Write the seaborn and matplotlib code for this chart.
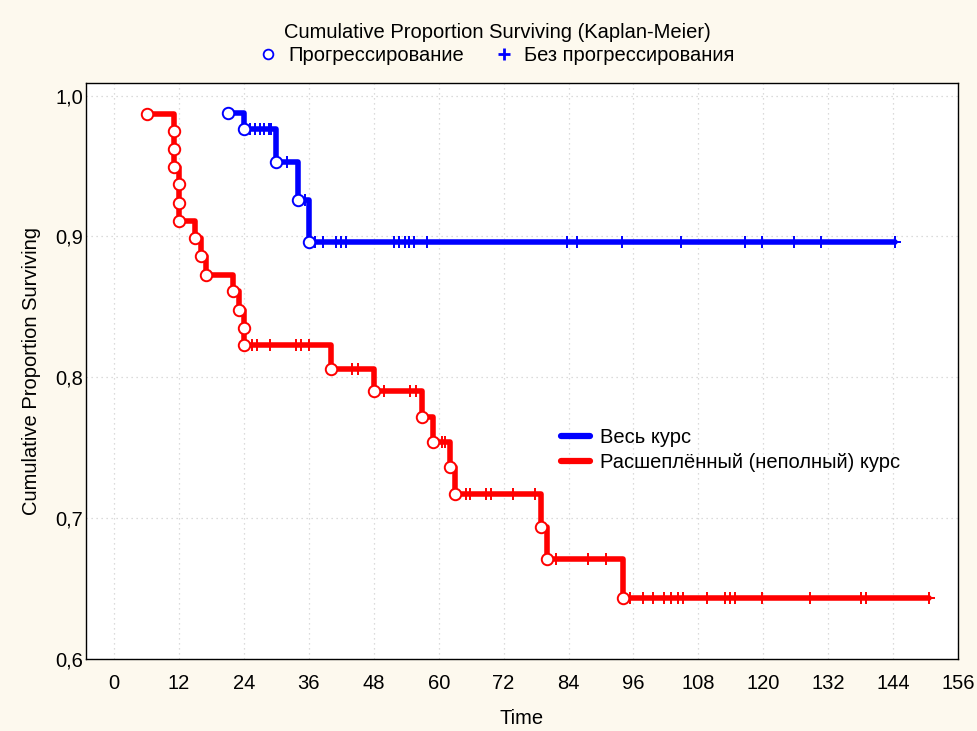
import matplotlib
matplotlib.use("Agg")
import matplotlib.pyplot as plt
from matplotlib.lines import Line2D
import numpy as np
import pandas as pd
import seaborn as sns

# Весь курс (blue): event times / survival after event, censored times
full_event_t = [21, 24, 30, 34, 36]
full_event_s = [0.988, 0.976, 0.953, 0.926, 0.896]
full_censor_t = [25.2, 26.0, 26.9, 27.7, 28.6, 29.0, 32.0, 35.2, 37.2, 38.6,
                 41.1, 41.9, 42.9, 51.8, 52.7, 53.7, 54.6, 55.5, 57.8, 83.7,
                 85.5, 93.8, 104.8, 116.7, 119.8, 125.7, 130.6, 144.3]

# Расшеплённый (неполный) курс (red)
split_event_t = [6, 11, 11, 11, 12, 12, 12, 15, 16, 17, 22, 23, 24, 24,
                 40, 48, 57, 59, 62, 63, 79, 80, 94]
split_event_s = [0.987, 0.975, 0.962, 0.949, 0.937, 0.924, 0.911, 0.899,
                 0.886, 0.873, 0.861, 0.848, 0.835, 0.823, 0.806, 0.790,
                 0.772, 0.754, 0.736, 0.717, 0.694, 0.671, 0.643]
split_censor_t = [25.4, 26.4, 28.9, 33.6, 34.6, 36.0, 44.0, 45.0, 49.9, 54.7,
                  55.8, 60.6, 61.2, 65.0, 65.8, 68.8, 69.6, 73.8, 77.8, 81.7,
                  87.6, 90.9, 95.3, 97.7, 99.7, 101.6, 103.0, 104.3, 105.2,
                  109.6, 112.9, 113.8, 114.8, 119.8, 128.7, 138.1, 139.0, 150.7]

course_names = ["Весь курс", "Расшеплённый (неполный) курс"]
course_colors = ["#0000ff", "#ff0000"]
x_ticks = list(range(0, 157, 12))
y_ticks = [0.6, 0.7, 0.8, 0.9, 1.0]

BG = "#fdf9ee"
FS = 14.5


def step_level(times, levels, t):
    idx = np.searchsorted(times, t, side="right") - 1
    return levels[idx]


groups = [
    (course_names[0], full_event_t, full_event_s, full_censor_t),
    (course_names[1], split_event_t, split_event_s, split_censor_t),
]

line_rows, event_rows, censor_rows = [], [], []
for name, et, es, ct in groups:
    end_t = max(ct)
    for t, s in zip(list(et) + [end_t], list(es) + [es[-1]]):
        line_rows.append({"course": name, "t": t, "s": s})
    for t, s in zip(et, es):
        event_rows.append({"course": name, "t": t, "s": s})
    for t in ct:
        censor_rows.append({"course": name, "t": t,
                            "s": step_level(np.array(et), np.array(es), t)})

lines = pd.DataFrame(line_rows)
events = pd.DataFrame(event_rows)
censors = pd.DataFrame(censor_rows)

sns.set_theme(style="white")
plt.rcParams["font.family"] = ["Liberation Sans", "DejaVu Sans"]
plt.rcParams["text.color"] = "black"
plt.rcParams["axes.labelcolor"] = "black"

fig = plt.figure(figsize=(9.77, 7.31), dpi=100, facecolor=BG)
ax = fig.add_axes([0.088, 0.0985, 0.8926, 0.788])
ax.set_facecolor("white")

palette = dict(zip(course_names, course_colors))
sns.lineplot(data=lines, x="t", y="s", hue="course", palette=palette,
             estimator=None, sort=False, drawstyle="steps-post",
             linewidth=4.0, legend=False, ax=ax, zorder=2)

for name, col in palette.items():
    sub_c = censors[censors["course"] == name]
    sns.scatterplot(x=sub_c["t"], y=sub_c["s"], marker="+", color=col,
                    s=70, linewidth=1.4, legend=False, ax=ax, zorder=3)
    sub_e = events[events["course"] == name]
    sns.scatterplot(x=sub_e["t"], y=sub_e["s"], marker="o", color="white",
                    edgecolor=col, s=68, linewidth=1.4, legend=False, ax=ax,
                    zorder=4)

ax.set_xlim(-5.2, 156)
ax.set_ylim(0.6, 1.009)
ax.set_xticks(x_ticks)
ax.set_xticklabels([str(v) for v in x_ticks])
ax.set_yticks(y_ticks)
ax.set_yticklabels([f"{v:.1f}".replace(".", ",") for v in y_ticks])
ax.tick_params(axis="both", direction="in", length=4, width=0.8,
               colors="black", labelsize=FS)
ax.tick_params(axis="x", pad=11)
ax.tick_params(axis="y", pad=2)
ax.grid(True, linestyle=(0, (1, 3)), color="#d0d0d0", linewidth=0.9)
for sp in ax.spines.values():
    sp.set_color("black")
    sp.set_linewidth(1.0)

ax.set_xlabel("Time", fontsize=FS, labelpad=11)
ax.set_ylabel("Cumulative Proportion Surviving", fontsize=FS, labelpad=10)

line_handles = [Line2D([0], [0], color=c, lw=4.5) for c in course_colors]
ax.legend(line_handles, course_names, loc="upper left",
          bbox_to_anchor=(0.5355, 0.415), frameon=False, fontsize=FS,
          handlelength=1.45, handletextpad=0.5, labelspacing=0.3,
          borderaxespad=0)

marker_handles = [
    Line2D([0], [0], ls="none", marker="o", ms=7, mfc="white", mec="#0000ff",
           mew=1.3),
    Line2D([0], [0], ls="none", marker="+", ms=8, color="#0000ff", mew=2),
]
top = fig.legend(marker_handles, ["Прогрессирование", "Без прогрессирования"],
                 loc="upper center", bbox_to_anchor=(0.509, 0.968), ncol=2,
                 frameon=False, fontsize=FS, title_fontsize=FS,
                 title="Cumulative Proportion Surviving (Kaplan-Meier)",
                 handlelength=0.8, handletextpad=0.6, columnspacing=1.6,
                 borderaxespad=0, borderpad=0, labelspacing=0.2)

fig.savefig("out.png", dpi=100, facecolor=BG)
